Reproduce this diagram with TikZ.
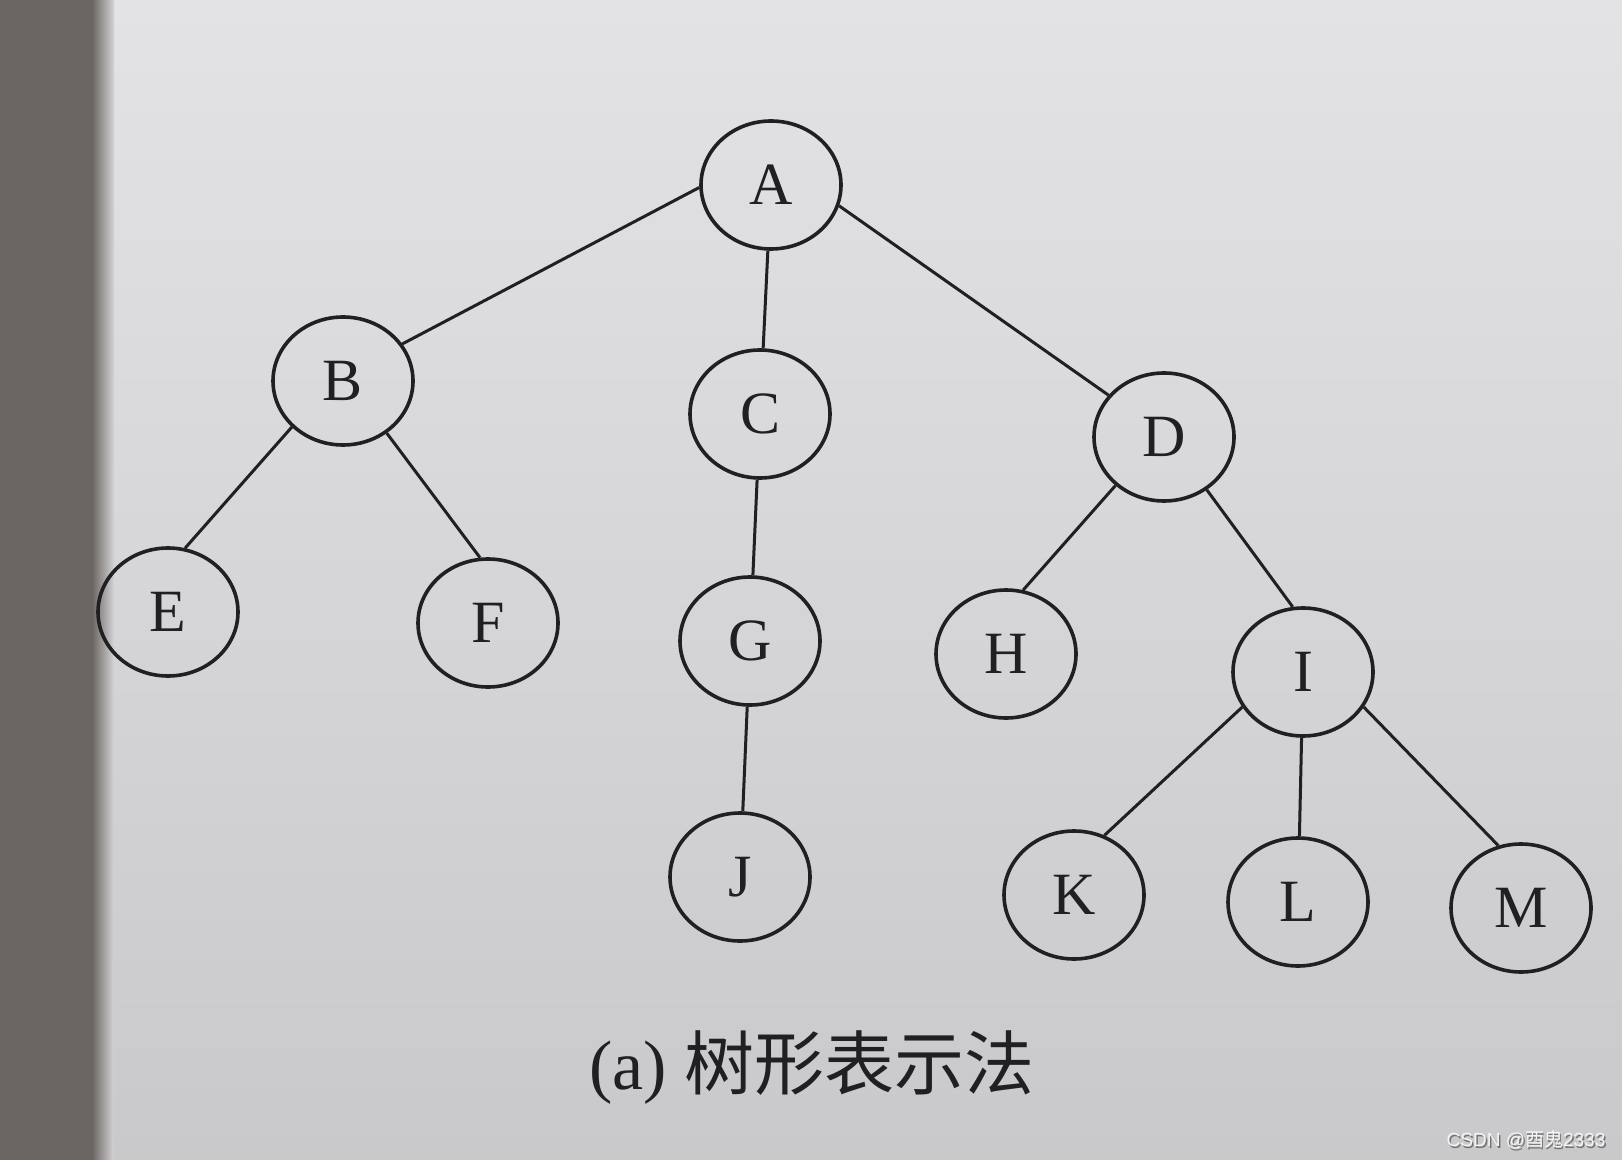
\documentclass[tikz,border=0pt]{standalone}
\usepackage{fontspec}
\setmainfont{Liberation Serif}
\newfontfamily\cjkfont{Noto Sans CJK SC}
\newfontfamily\markfont{Liberation Sans}
\usetikzlibrary{shapes.geometric}

\definecolor{ink}{HTML}{202022}
\definecolor{papertop}{HTML}{E3E3E5}
\definecolor{paperbot}{HTML}{C9C9CB}
\definecolor{strip}{HTML}{6C6662}

\begin{document}
\begin{tikzpicture}[x=0.5pt,y=-0.5pt,
    treenode/.style={draw=ink, ellipse, line width=1.8pt, minimum width=70pt,
        minimum height=64pt, inner sep=0pt, text=ink, font=\fontsize{30}{36}\selectfont},
    every edge/.style={draw=ink, line width=1.5pt}]

    % paper and the dark edge on the left
    \shade[top color=papertop, bottom color=paperbot] (0,0) rectangle (1622,1160);
    \fill[strip] (0,0) rectangle (92,1160);
    \shade[left color=strip, right color=paperbot!60!papertop] (92,0) rectangle (114,1160);
    \useasboundingbox (0,0) rectangle (1622,1160);

    \node[treenode] at (771,185) (A) {A};

    \node[treenode] at (343,381) (B) {B};
    \node[treenode] at (760,414) (C) {C};
    \node[treenode] at (1164,437) (D) {D};

    \node[treenode] at (168,612) (E) {E};
    \node[treenode] at (488,623) (F) {F};
    \node[treenode] at (750,641) (G) {G};
    \node[treenode] at (1006,654) (H) {H};
    \node[treenode] at (1303,672) (I) {I};

    \node[treenode] at (740,877) (J) {J};
    \node[treenode] at (1074,895) (K) {K};
    \node[treenode] at (1298,902) (L) {L};
    \node[treenode] at (1521,908) (M) {M};

    \path
    (A.182) edge (B.32)
    (A) edge (C)
    (A.-17) edge (D.143)

    (B.-138) edge (E.75)
    (B.-50) edge (F.97)

    (C) edge (G)
    (G) edge (J)

    (D.-135) edge (H.75)
    (D.-51) edge (I.99)

    (I.-150) edge (K.63)
    (I) edge (L)
    (I.-30) edge (M.110)
    ;

    \node[text=ink, font=\fontsize{35}{40}\selectfont] at (812,1068) (caption) {(a) {\cjkfont 树形表示法}};

    % watermark
    \node[text=black!55, font=\markfont\fontsize{9.5}{11}\selectfont] at (1527.5,1141.5) (markshadow) {CSDN @{\cjkfont 酉鬼}2333};
    \node[text=white!92!gray, font=\markfont\fontsize{9.5}{11}\selectfont] at (1526,1140) (mark) {CSDN @{\cjkfont 酉鬼}2333};
\end{tikzpicture}
\end{document}
